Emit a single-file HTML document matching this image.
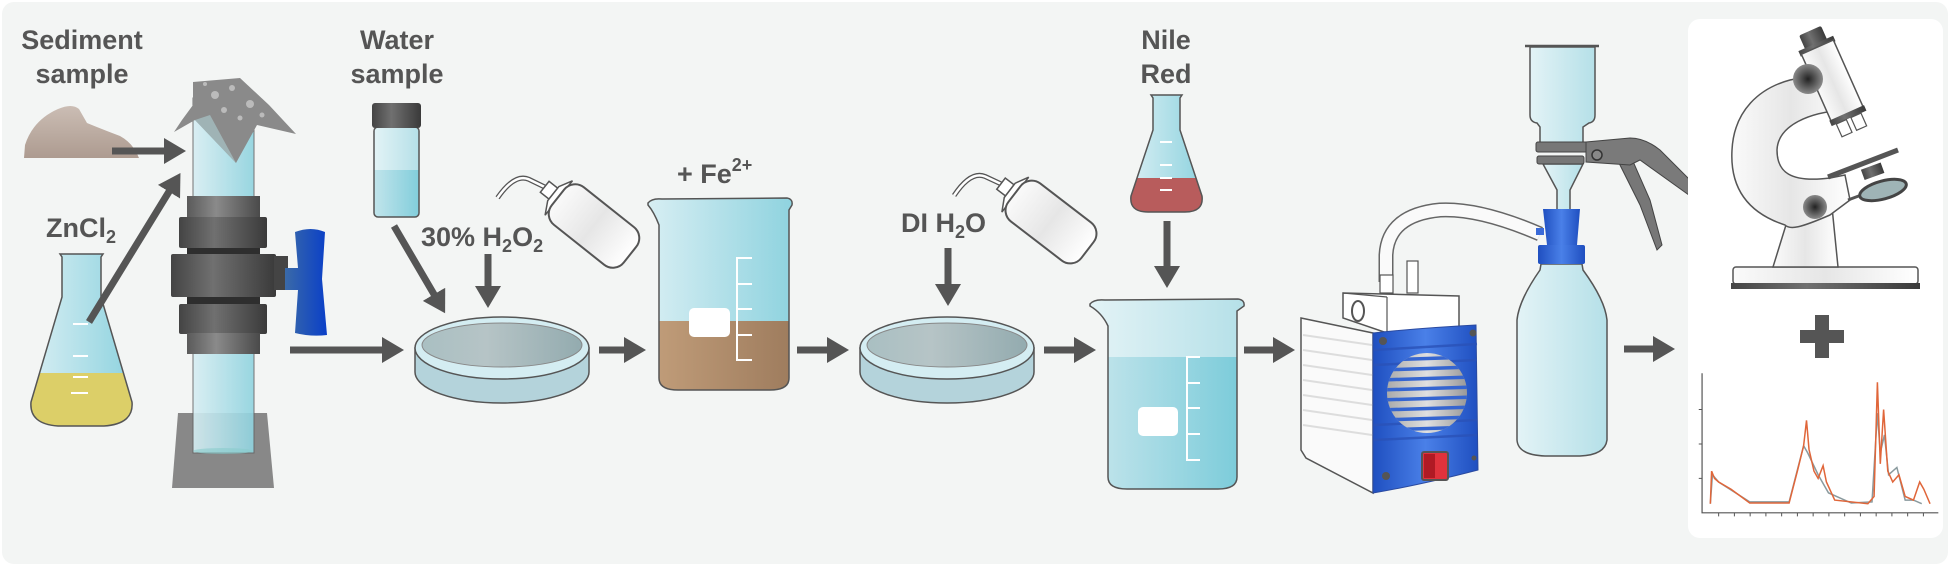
<!DOCTYPE html>
<html><head><meta charset="utf-8"><style>
html,body{margin:0;padding:0;background:#fff;}
svg{display:block;}
text{font-family:"Liberation Sans",sans-serif;font-weight:bold;fill:#555;}
</style></head><body>
<svg width="1950" height="566" viewBox="0 0 1950 566" xmlns="http://www.w3.org/2000/svg">
<defs>
<marker id="ah" markerUnits="userSpaceOnUse" markerWidth="26" markerHeight="28" refX="2" refY="13" orient="auto"><path d="M0,0 L22,13 L0,26 Z" fill="#555"/></marker>
<linearGradient id="glass" x1="0" x2="1"><stop offset="0" stop-color="#d7eef3"/><stop offset="1" stop-color="#8fd3df"/></linearGradient>
<linearGradient id="glass2" x1="0" x2="1"><stop offset="0" stop-color="#e3f3f6"/><stop offset="1" stop-color="#b5e0e8"/></linearGradient>
<linearGradient id="water" x1="0" x2="1"><stop offset="0" stop-color="#bfe3ea"/><stop offset="1" stop-color="#6cc6d6"/></linearGradient>
<linearGradient id="brown" x1="0" x2="1"><stop offset="0" stop-color="#c4a07c"/><stop offset="1" stop-color="#9c7a5c"/></linearGradient>
<linearGradient id="gray" x1="0" x2="1"><stop offset="0" stop-color="#5a5a5a"/><stop offset="0.4" stop-color="#8a8a8a"/><stop offset="1" stop-color="#4a4a4a"/></linearGradient>
<linearGradient id="dgray" x1="0" x2="1"><stop offset="0" stop-color="#444"/><stop offset="0.4" stop-color="#707070"/><stop offset="1" stop-color="#3a3a3a"/></linearGradient>
<linearGradient id="bluh" x1="0" x2="1"><stop offset="0" stop-color="#3a6aa8"/><stop offset="1" stop-color="#0a3fc8"/></linearGradient>
<linearGradient id="blue" x1="0" x2="1"><stop offset="0" stop-color="#1f4fc0"/><stop offset="0.5" stop-color="#4a80e8"/><stop offset="1" stop-color="#1f4fc0"/></linearGradient>
<linearGradient id="dishin" x1="0" x2="1"><stop offset="0" stop-color="#a9bfc2"/><stop offset="0.4" stop-color="#b6c4c6"/><stop offset="1" stop-color="#93abaf"/></linearGradient>
<linearGradient id="white" x1="0" x2="1"><stop offset="0" stop-color="#fafafa"/><stop offset="0.5" stop-color="#e6e6e6"/><stop offset="1" stop-color="#fff"/></linearGradient>
<linearGradient id="sed" x1="0" y1="0" x2="0" y2="1"><stop offset="0" stop-color="#cbbdb4"/><stop offset="1" stop-color="#ad9b90"/></linearGradient>
<radialGradient id="knob"><stop offset="0" stop-color="#222"/><stop offset="1" stop-color="#8a8a8a"/></radialGradient>
<linearGradient id="fan" x1="0" x2="1"><stop offset="0" stop-color="#aaa"/><stop offset="0.5" stop-color="#e0e0e0"/><stop offset="1" stop-color="#999"/></linearGradient>
<clipPath id="fl1"><path d="M60,254 L103,254 L101,257 L101,297 L132,402 Q134,424 104,426 L58,426 Q29,424 31,402 L62,297 L62,257 Z"/></clipPath>
<clipPath id="fl2"><path d="M1151,95 L1182,95 L1180,98 L1180,130 L1202,196 Q1204,212 1185,212 L1148,212 Q1129,212 1131,196 L1153,130 L1153,98 Z"/></clipPath>
<clipPath id="bk1"><path d="M648,203 Q652,198 662,199 L787,198 Q793,199 792,205 L789,210 L789,378 Q789,390 770,390 L678,390 Q659,390 659,378 L659,225 Q654,212 648,205 Z"/></clipPath>
<clipPath id="bk2"><path d="M1090,304 Q1094,299 1105,300 L1238,299 Q1245,300 1244,306 L1237,311 L1237,477 Q1237,489 1218,489 L1127,489 Q1108,489 1108,477 L1108,326 Q1102,313 1090,306 Z"/></clipPath>
<clipPath id="vial"><rect x="374" y="127" width="45" height="90" rx="4"/></clipPath>
<clipPath id="fanc"><circle cx="1427" cy="393" r="40"/></clipPath>
<g id="wb">
<path d="M-62,0 L-80,4 Q-95,8 -93,38" fill="none" stroke="#555" stroke-width="5"/>
<path d="M-62,0 L-80,4 Q-95,8 -93,38" fill="none" stroke="#fff" stroke-width="2.5"/>
<rect x="-63" y="-7" width="11" height="14" fill="#fff" stroke="#555" stroke-width="1.5"/>
<path d="M-45,-22 L-52,-9 L-52,9 L-45,22 Z" fill="#fff" stroke="#555" stroke-width="1.5"/>
<rect x="-46" y="-24" width="92" height="48" rx="14" fill="url(#white)" stroke="#555" stroke-width="2" transform="rotate(90) rotate(-90)"/>
</g>
</defs>

<rect x="2" y="2" width="1946" height="562" rx="12" fill="#f3f5f4"/>

<!-- Sediment -->
<text x="82" y="49" font-size="27" text-anchor="middle">Sediment</text>
<text x="82" y="83" font-size="27" text-anchor="middle">sample</text>
<path d="M24,158 L25,145 Q33,120 58,109 Q72,103 79,109 L87,123 Q104,130 120,136 Q133,143 139,158 Z" fill="url(#sed)"/>
<line x1="112" y1="151" x2="166" y2="151" stroke="#555" stroke-width="7" marker-end="url(#ah)"/>

<!-- ZnCl2 flask -->
<text x="81" y="237" font-size="27" text-anchor="middle">ZnCl<tspan font-size="18" dy="6">2</tspan></text>
<path d="M60,254 L103,254 L101,257 L101,297 L132,402 Q134,424 104,426 L58,426 Q29,424 31,402 L62,297 L62,257 Z" fill="url(#glass)"/>
<rect x="20" y="373" width="120" height="60" fill="#dccf68" clip-path="url(#fl1)"/>
<path d="M60,254 L103,254 L101,257 L101,297 L132,402 Q134,424 104,426 L58,426 Q29,424 31,402 L62,297 L62,257 Z" fill="none" stroke="#555" stroke-width="1.5"/>
<g stroke="#fff" stroke-width="2"><line x1="73" y1="324" x2="88" y2="324"/><line x1="73" y1="356" x2="88" y2="356"/><line x1="73" y1="377" x2="88" y2="377"/><line x1="71" y1="393" x2="88" y2="393"/></g>
<line x1="89" y1="322" x2="170" y2="190" stroke="#555" stroke-width="7" marker-end="url(#ah)"/>

<!-- Column -->
<path d="M178,413 L267,413 L274,488 L172,488 Z" fill="#888"/>
<rect x="193" y="98" width="61" height="355" fill="url(#glass)" opacity="0.9" stroke="#666" stroke-width="1"/>
<ellipse cx="223" cy="451" rx="30" ry="3" fill="#8cc" opacity="0.6"/>
<path d="M193,82 L240,78 L269,105 L296,134 L257,125 L236,163 L195,120 L174,132 L182,120 L193,105 Z" fill="#8a8a8a"/>
<g fill="#bbb"><circle cx="215" cy="95" r="4"/><circle cx="232" cy="88" r="3"/><circle cx="250" cy="104" r="4"/><circle cx="224" cy="110" r="3"/><circle cx="240" cy="118" r="2.5"/><circle cx="205" cy="84" r="2"/><circle cx="262" cy="115" r="2.5"/></g>
<path d="M195,120 L210,115 L236,163 Z" fill="#a8c4c8" opacity="0.7"/>
<rect x="187" y="196" width="73" height="23" fill="url(#gray)"/>
<rect x="179" y="217" width="88" height="31" rx="2" fill="url(#dgray)"/>
<rect x="187" y="248" width="73" height="8" fill="#2e2e2e"/>
<rect x="171" y="254" width="105" height="43" rx="2" fill="url(#dgray)"/>
<rect x="274" y="256" width="14" height="34" fill="#444"/>
<rect x="187" y="297" width="73" height="8" fill="#2e2e2e"/>
<rect x="179" y="304" width="88" height="30" rx="2" fill="url(#dgray)"/>
<rect x="187" y="333" width="73" height="21" fill="url(#gray)"/>
<path d="M295,232 Q311,226 325,232 L322,279 L327,335 Q311,337 295,333 L298,290 L285,290 L285,268 L298,268 Z" fill="url(#bluh)"/>
<line x1="290" y1="350" x2="384" y2="350" stroke="#555" stroke-width="7" marker-end="url(#ah)"/>

<!-- Water sample -->
<text x="397" y="49" font-size="27" text-anchor="middle">Water</text>
<text x="397" y="83" font-size="27" text-anchor="middle">sample</text>
<rect x="374" y="127" width="45" height="90" rx="4" fill="url(#glass2)"/>
<rect x="370" y="170" width="55" height="50" fill="url(#water)" opacity="0.8" clip-path="url(#vial)"/>
<rect x="374" y="127" width="45" height="90" rx="4" fill="none" stroke="#555" stroke-width="1.5"/>
<rect x="372" y="103" width="49" height="25" rx="3" fill="url(#dgray)"/>
<line x1="394" y1="226" x2="435" y2="296" stroke="#555" stroke-width="7" marker-end="url(#ah)"/>
<text x="421" y="246" font-size="27">30% H<tspan font-size="18" dy="6">2</tspan><tspan dy="-6">O</tspan><tspan font-size="18" dy="6">2</tspan></text>
<line x1="488" y1="254" x2="488" y2="288" stroke="#555" stroke-width="7" marker-end="url(#ah)"/>
<use href="#wb" transform="translate(594,226) rotate(38.5)"/>

<!-- Petri 1 -->
<g>
<path d="M415,348 L415,372 A87,31 0 0 0 589,372 L589,348 Z" fill="#b4d3db" stroke="#555" stroke-width="1.5"/>
<ellipse cx="502" cy="348" rx="87" ry="31" fill="#d4edf2" stroke="#555" stroke-width="1.5"/>
<ellipse cx="502" cy="345" rx="80" ry="22" fill="url(#dishin)" stroke="#888" stroke-width="1"/>
</g>
<line x1="599" y1="350" x2="626" y2="350" stroke="#555" stroke-width="7" marker-end="url(#ah)"/>

<!-- Beaker 1 -->
<text x="677" y="183" font-size="27">+ Fe<tspan font-size="18" dy="-12">2+</tspan></text>
<path d="M648,203 Q652,198 662,199 L787,198 Q793,199 792,205 L789,210 L789,378 Q789,390 770,390 L678,390 Q659,390 659,378 L659,225 Q654,212 648,205 Z" fill="url(#glass)"/>
<rect x="640" y="321" width="160" height="80" fill="url(#brown)" clip-path="url(#bk1)"/>
<path d="M648,203 Q652,198 662,199 L787,198 Q793,199 792,205 L789,210 L789,378 Q789,390 770,390 L678,390 Q659,390 659,378 L659,225 Q654,212 648,205 Z" fill="none" stroke="#555" stroke-width="1.5"/>
<rect x="689" y="308" width="41" height="29" rx="5" fill="#fff"/>
<g stroke="#fff" stroke-width="2" fill="none"><path d="M752,258 L737,258 L737,360 L752,360"/><line x1="737" y1="284" x2="752" y2="284"/><line x1="737" y1="309" x2="752" y2="309"/><line x1="737" y1="335" x2="752" y2="335"/></g>
<line x1="797" y1="350" x2="829" y2="350" stroke="#555" stroke-width="7" marker-end="url(#ah)"/>

<!-- Petri 2 -->
<text x="901" y="232" font-size="27">DI H<tspan font-size="18" dy="6">2</tspan><tspan dy="-6">O</tspan></text>
<line x1="948" y1="248" x2="948" y2="286" stroke="#555" stroke-width="7" marker-end="url(#ah)"/>
<use href="#wb" transform="translate(1051,222) rotate(37.5)"/>
<path d="M860,348 L860,372 A87,31 0 0 0 1034,372 L1034,348 Z" fill="#b4d3db" stroke="#555" stroke-width="1.5"/>
<ellipse cx="947" cy="348" rx="87" ry="31" fill="#d4edf2" stroke="#555" stroke-width="1.5"/>
<ellipse cx="947" cy="345" rx="80" ry="22" fill="url(#dishin)" stroke="#888" stroke-width="1"/>
<line x1="1044" y1="350" x2="1076" y2="350" stroke="#555" stroke-width="7" marker-end="url(#ah)"/>

<!-- Nile Red -->
<text x="1166" y="49" font-size="27" text-anchor="middle">Nile</text>
<text x="1166" y="83" font-size="27" text-anchor="middle">Red</text>
<path d="M1151,95 L1182,95 L1180,98 L1180,130 L1202,196 Q1204,212 1185,212 L1148,212 Q1129,212 1131,196 L1153,130 L1153,98 Z" fill="url(#glass)"/>
<rect x="1120" y="178" width="100" height="40" fill="#b85c5c" clip-path="url(#fl2)"/>
<path d="M1151,95 L1182,95 L1180,98 L1180,130 L1202,196 Q1204,212 1185,212 L1148,212 Q1129,212 1131,196 L1153,130 L1153,98 Z" fill="none" stroke="#555" stroke-width="1.5"/>
<g stroke="#fff" stroke-width="2"><line x1="1160" y1="142" x2="1172" y2="142"/><line x1="1160" y1="165" x2="1172" y2="165"/><line x1="1160" y1="178" x2="1172" y2="178"/><line x1="1160" y1="190" x2="1172" y2="190"/></g>
<line x1="1167" y1="221" x2="1167" y2="268" stroke="#555" stroke-width="7" marker-end="url(#ah)"/>

<!-- Beaker 2 -->
<path d="M1090,304 Q1094,299 1105,300 L1238,299 Q1245,300 1244,306 L1237,311 L1237,477 Q1237,489 1218,489 L1127,489 Q1108,489 1108,477 L1108,326 Q1102,313 1090,306 Z" fill="url(#glass2)"/>
<rect x="1090" y="357" width="160" height="140" fill="url(#water)" opacity="0.85" clip-path="url(#bk2)"/>
<path d="M1090,304 Q1094,299 1105,300 L1238,299 Q1245,300 1244,306 L1237,311 L1237,477 Q1237,489 1218,489 L1127,489 Q1108,489 1108,477 L1108,326 Q1102,313 1090,306 Z" fill="none" stroke="#555" stroke-width="1.5"/>
<rect x="1138" y="407" width="40" height="29" rx="5" fill="#fff"/>
<g stroke="#fff" stroke-width="2" fill="none"><path d="M1200,357 L1187,357 L1187,460 L1200,460"/><line x1="1187" y1="383" x2="1200" y2="383"/><line x1="1187" y1="408" x2="1200" y2="408"/><line x1="1187" y1="434" x2="1200" y2="434"/></g>
<line x1="1244" y1="350" x2="1275" y2="350" stroke="#555" stroke-width="7" marker-end="url(#ah)"/>

<!-- Pump tube -->
<path d="M1386,282 L1386,255 Q1388,215 1440,210 Q1480,208 1540,234" fill="none" stroke="#666" stroke-width="15"/>
<path d="M1386,282 L1386,255 Q1388,215 1440,210 Q1480,208 1540,234" fill="none" stroke="#fafafa" stroke-width="12"/>
<!-- Pump -->
<path d="M1301,318 L1373,333 L1373,493 L1306,458 L1301,450 Z" fill="#fafafa" stroke="#555" stroke-width="1.5"/>
<g stroke="#ddd" stroke-width="2"><line x1="1303" y1="335" x2="1372" y2="345"/><line x1="1303" y1="350" x2="1372" y2="360"/><line x1="1303" y1="365" x2="1372" y2="375"/><line x1="1303" y1="380" x2="1372" y2="390"/><line x1="1303" y1="395" x2="1372" y2="405"/><line x1="1303" y1="410" x2="1372" y2="420"/><line x1="1303" y1="425" x2="1372" y2="435"/></g>
<rect x="1380" y="275" width="13" height="18" fill="#fff" stroke="#555" stroke-width="1.2"/>
<rect x="1407" y="261" width="11" height="32" fill="#fff" stroke="#555" stroke-width="1.2"/>
<path d="M1343,293 L1459,296 L1459,328 L1387,333 L1343,318 Z" fill="#fff" stroke="#555" stroke-width="1.5"/>
<line x1="1387" y1="297" x2="1387" y2="333" stroke="#555" stroke-width="1.2"/>
<line x1="1343" y1="293" x2="1387" y2="297" stroke="#555" stroke-width="1.2"/>
<ellipse cx="1358" cy="311" rx="6" ry="10" fill="#fff" stroke="#555" stroke-width="2"/>
<path d="M1373,333 Q1420,328 1476,325 L1478,470 Q1420,485 1373,493 Z" fill="url(#blue)" stroke="#2a4aa0" stroke-width="1"/>
<g stroke="#2a52b8" stroke-width="2.5" opacity="0.8"><line x1="1374" y1="350" x2="1477" y2="344"/><line x1="1374" y1="365" x2="1477" y2="360"/><line x1="1374" y1="425" x2="1477" y2="420"/><line x1="1374" y1="440" x2="1477" y2="435"/></g>
<circle cx="1427" cy="393" r="40" fill="url(#fan)"/>
<g clip-path="url(#fanc)" stroke="#3565d0" stroke-width="3.5"><line x1="1380" y1="360" x2="1475" y2="357"/><line x1="1380" y1="370" x2="1475" y2="367"/><line x1="1380" y1="380" x2="1475" y2="377"/><line x1="1380" y1="390" x2="1475" y2="387"/><line x1="1380" y1="400" x2="1475" y2="397"/><line x1="1380" y1="410" x2="1475" y2="407"/><line x1="1380" y1="420" x2="1475" y2="417"/><line x1="1380" y1="430" x2="1475" y2="427"/></g>
<rect x="1422" y="452" width="26" height="28" rx="2" fill="#e0323c" stroke="#555" stroke-width="2"/>
<rect x="1424" y="454" width="11" height="24" fill="#b01a24"/>
<g fill="#555"><circle cx="1383" cy="341" r="4"/><circle cx="1473" cy="333" r="3.5"/><circle cx="1386" cy="476" r="4"/><circle cx="1474" cy="458" r="2.5"/></g>

<!-- Filtration -->
<path d="M1615,150 L1628,150 L1650,200 L1662,245 L1657,250 L1640,205 L1620,165 Z" fill="#777" stroke="#444" stroke-width="1"/>
<path d="M1530,47 L1530,115 Q1530,122 1537,123 L1540,127 L1540,148 L1583,148 L1583,127 L1589,123 Q1595,122 1595,115 L1595,47 Z" fill="url(#glass2)" stroke="#555" stroke-width="1.5"/>
<line x1="1525" y1="46" x2="1599" y2="46" stroke="#555" stroke-width="2.5"/>
<path d="M1543,164 L1583,164 L1570,190 L1570,210 L1557,210 L1557,190 Z" fill="url(#glass2)" stroke="#555" stroke-width="1.5"/>
<rect x="1536" y="142" width="52" height="10" rx="2" fill="#777" stroke="#444" stroke-width="1"/>
<path d="M1586,142 L1630,138 Q1645,138 1660,150 L1710,200 L1700,203 L1640,160 L1630,165 L1586,162 Z" fill="#7a7a7a" stroke="#444" stroke-width="1"/>
<rect x="1537" y="156" width="47" height="8" rx="2" fill="#777" stroke="#444" stroke-width="1"/>
<circle cx="1597" cy="155" r="5" fill="#888" stroke="#333" stroke-width="1.5"/>
<path d="M1541,264 L1582,264 L1583,270 Q1605,300 1607,320 L1607,440 Q1605,455 1580,456 L1545,456 Q1518,455 1517,440 L1517,320 Q1519,300 1540,270 Z" fill="url(#glass2)" stroke="#555" stroke-width="1.5"/>
<path d="M1543,209 L1580,209 L1577,245 L1547,245 Z" fill="url(#blue)"/>
<rect x="1536" y="228" width="8" height="7" fill="#3a6ad8"/>
<rect x="1538" y="245" width="47" height="19" rx="2" fill="url(#blue)"/>
<line x1="1624" y1="349" x2="1655" y2="349" stroke="#555" stroke-width="7" marker-end="url(#ah)"/>

<!-- Right panel -->
<rect x="1688" y="19" width="255" height="519" rx="12" fill="#fff"/>
<!-- Microscope -->
<rect x="1733" y="267" width="185" height="17" rx="3" fill="url(#white)" stroke="#555" stroke-width="1.5"/>
<rect x="1731" y="283" width="189" height="6" fill="url(#dgray)"/>
<path d="M1773,267 L1838,267 L1832,207 L1808,193 L1790,212 Z" fill="url(#white)" stroke="#555" stroke-width="1.5"/>
<path d="M1790,80 L1830,72 L1845,110 C1810,112 1778,125 1777,150 C1777,172 1790,183 1830,178 L1845,175 L1850,200 L1830,215 C1800,228 1790,230 1785,225 C1745,212 1730,185 1732,150 C1734,110 1760,88 1790,80 Z" fill="url(#white)" stroke="#555" stroke-width="1.5"/>
<g transform="translate(1832,80) rotate(-24)">
<rect x="-12" y="-54" width="24" height="16" rx="2" fill="url(#dgray)"/>
<rect x="-19" y="-40" width="38" height="6" fill="url(#dgray)"/>
<rect x="-17.5" y="-36" width="35" height="74" fill="url(#white)" stroke="#555" stroke-width="1.5"/>
<rect x="-19" y="36" width="38" height="6" fill="url(#dgray)"/>
<rect x="-14" y="42" width="11" height="14" fill="#fff" stroke="#555" stroke-width="1.2"/>
<rect x="2" y="42" width="11" height="14" fill="#fff" stroke="#555" stroke-width="1.2"/>
</g>
<circle cx="1808" cy="79" r="15" fill="url(#knob)"/>
<line x1="1828" y1="177" x2="1898" y2="150" stroke="#555" stroke-width="5"/>
<rect x="1862" y="166" width="21" height="11" fill="url(#dgray)" transform="rotate(-20 1872 171)"/>
<line x1="1848" y1="200" x2="1864" y2="194" stroke="#555" stroke-width="3"/>
<ellipse cx="1883" cy="190" rx="24" ry="9" fill="#9fb4b6" stroke="#444" stroke-width="3" transform="rotate(-15 1883 190)"/>
<circle cx="1815" cy="207" r="12" fill="url(#knob)"/>
<!-- plus -->
<rect x="1800" y="330" width="44" height="13" fill="#555"/>
<rect x="1815" y="315" width="14" height="43" fill="#555"/>
<!-- chart -->
<g transform="translate(1300,0) scale(0.4145,0.3624)" fill="none">
<path d="M970,1030 L970,1415 L1540,1415" stroke="#555" stroke-width="1.2" vector-effect="non-scaling-stroke"/>
<path d="M962,1130 H970 M962,1225 H970 M962,1320 H970 M1010,1415 V1425 M1048,1415 V1425 M1086,1415 V1425 M1124,1415 V1425 M1162,1415 V1425 M1200,1415 V1425 M1238,1415 V1425 M1276,1415 V1425 M1314,1415 V1425 M1352,1415 V1425 M1390,1415 V1425 M1428,1415 V1425 M1466,1415 V1425 M1504,1415 V1425" stroke="#555" stroke-width="1" vector-effect="non-scaling-stroke"/>
<polyline points="990,1390 995,1310 1010,1330 1085,1385 1180,1385 1215,1230 1225,1250 1250,1310 1275,1360 1330,1388 1380,1385 1393,1140 1400,1250 1410,1200 1420,1310 1440,1290 1460,1380 1480,1380 1500,1390" stroke="#8a9a9e" stroke-width="1.5" vector-effect="non-scaling-stroke"/>
<polyline points="990,1390 993,1300 1000,1320 1010,1330 1040,1350 1085,1388 1180,1388 1200,1300 1215,1230 1222,1160 1228,1240 1240,1300 1250,1320 1262,1285 1270,1330 1290,1380 1370,1390 1385,1370 1393,1055 1400,1280 1408,1130 1418,1300 1430,1330 1445,1310 1460,1370 1480,1380 1495,1330 1505,1350 1520,1390" stroke="#e0663a" stroke-width="1.5" vector-effect="non-scaling-stroke"/>
</g>
</svg>
</body></html>
